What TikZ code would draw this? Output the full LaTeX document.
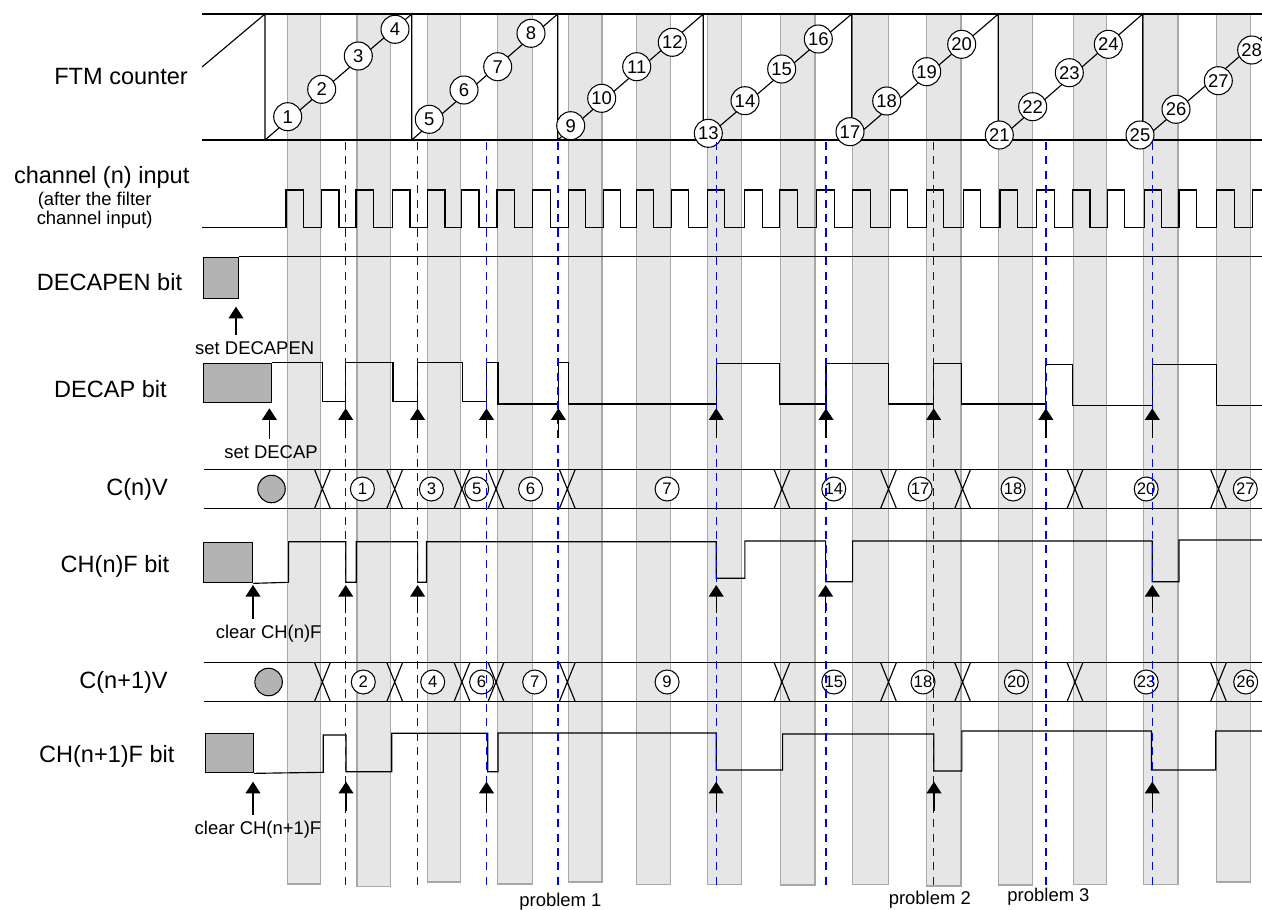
\documentclass[tikz,border=0pt]{standalone}
\usepackage{fontspec}
\setmainfont{Liberation Sans}
\usetikzlibrary{arrows.meta, calc}
\definecolor{barfill}{RGB}{230,230,230}
\definecolor{baredge}{RGB}{168,168,168}
\definecolor{holdgray}{RGB}{179,179,179}
\definecolor{cueblue}{RGB}{0,0,255}

\begin{document}
\begin{tikzpicture}[x=0.02cm, y=-0.02cm,
    bar/.style={fill=barfill, draw=baredge, line width=0.7pt},
    rail/.style={line width=0.7pt},
    sig/.style={line width=0.65pt},
    cue/.style={cueblue, line width=0.7pt, dash pattern=on 4.6pt off 3.6pt},
    pointer/.style={line width=0.7pt, -{Triangle[length=6.6pt, width=8.4pt]}},
    hold/.style={draw, fill=holdgray, line width=0.6pt, inner sep=0pt, anchor=north west},
    cnt/.style={circle, draw, fill=white, line width=0.6pt, inner sep=0pt, minimum size=0.56cm, font=\fontsize{10.5}{11}\selectfont},
    val/.style={circle, draw, fill=white, line width=0.6pt, inner sep=0pt, minimum size=0.48cm, font=\fontsize{9.5}{10}\selectfont},
    blank/.style={circle, draw, fill=holdgray, line width=0.6pt, inner sep=0pt, minimum size=0.55cm},
    lbl/.style={font=\fontsize{13.4}{16}\selectfont},
    note/.style={font=\fontsize{10.5}{12}\selectfont}]
\useasboundingbox (0,0) rectangle (1262,910);

\foreach \a/\b/\c in {287.8/320.4/884, 357/390.6/886.7, 427.8/460.4/882, 497.6/532.7/884, 568.6/602/882,
    636.4/670.4/884.3, 707.2/741.6/884.3, 780.5/815/885, 852.6/888.2/884.3, 926.3/961.1/886,
    998.4/1032.8/885, 1073.7/1106.5/884.3, 1143.7/1178.1/884.3, 1216.2/1250.6/882}
  \draw[bar] (\a,14) rectangle (\b,\c);

\node[lbl, anchor=east] (lblftm) at (194,77) {FTM counter};
\node[lbl] (lblchan) at (101.7,177.7) {channel (n) input};
\node[note, align=center, font=\fontsize{10.5}{9.6}\selectfont] (lblfilter) at (94.7,210) {(after the filter\\channel input)};
\node[lbl] (lbldecapen) at (109.5,281.7) {DECAPEN bit};
\node[lbl] (lbldecap) at (110.5,389.3) {DECAP bit};
\node[lbl] (lblcnv) at (137,489) {C(n)V};
\node[lbl] (lblchnf) at (115,566) {CH(n)F bit};
\node[lbl] (lblcnnv) at (123.5,682) {C(n+1)V};
\node[lbl] (lblchnnf) at (106.8,756.7) {CH(n+1)F bit};

\draw[rail] (202,14) -- (1262,14);
\draw[rail] (202,140) -- (1262,140);
\draw[sig] (202,67) -- (265,14) -- (265,140) -- (411.7,14) -- (411.7,140) -- (557.7,14) -- (557.7,140)
  -- (703.3,14) -- (703.3,140) -- (851.7,14) -- (851.7,140) -- (998.3,14) -- (998.3,140)
  -- (1142.7,14) -- (1142.7,140) -- (1262,37);
\foreach \n/\x/\y in {1/287.7/116.7, 2/321.7/89.3, 3/358.3/56, 4/395/29.3, 5/429.3/119.3, 6/464/90, 7/497.7/66.7,
    8/531/33.3, 9/570.7/125.7, 10/601.7/98.3, 11/636.7/66.7, 12/672.3/42.3, 13/708.3/133.3, 14/745/100.7,
    15/781.7/69, 16/818.3/39, 17/850/131.7, 18/886.7/101, 19/926.7/71.7, 20/961.7/44.3, 21/999.3/135,
    22/1032.7/106.7, 23/1069.3/72.7, 24/1108.3/44.3, 25/1140/135, 26/1176/109.3, 27/1218.3/80.7, 28/1251.7/50}
  \node[cnt] (cnt\n) at (\x,\y) {\n};

\draw[sig] (202,227.7) foreach \r in {286,321.5,356,392.5,427.5,461.5,497,532.7,568.2,603.3,636.4,671.2,707.2,
    744.9,779.7,816.6,852.6,890.3,926.3,963.2,1000,1036.9,1072.5,1107.3,1144.2,1179,1216.6}
  { -- (\r,227.7) -- (\r,190) -- (\r+17.5,190) -- (\r+17.5,227.7) } -- (1252.7,227.7) -- (1252.7,190) -- (1262,190);

\node[hold, minimum width=0.686cm, minimum height=0.832cm] (decapenbox) at (203.3,256.7) {};
\draw[sig] (decapenbox.north east) -- (1262,256.7);
\node[note] (setdecapen) at (254.7,347.7) {set DECAPEN};
\coordinate (decapentip) at (236,306.7);
\draw[pointer] (setdecapen.north -| decapentip) -- (decapentip);

\node[hold, minimum width=1.352cm, minimum height=0.78cm] (decapbox) at (203,362.7) {};
\draw[sig] (decapbox.north east) -- (322.4,362.7) -- (322.4,401.7) -- (345.7,401.7) -- (345.7,362.7) -- (393,362.7)
  -- (393,401.7) -- (417.6,401.7) -- (417.6,362.7) -- (462.4,362.7) -- (462.4,401.7) -- (486.5,401.7)
  -- (486.5,362.7) -- (498,362.7) -- (498,404) -- (558.4,404) -- (558.4,362.7) -- (568.6,362.7) -- (568.6,404)
  -- (716.2,404) -- (716.2,363.3) -- (779.7,363.3) -- (779.7,404) -- (826,404) -- (826,363.3) -- (888.2,363.3)
  -- (888.2,404) -- (933.7,404) -- (933.7,363.3) -- (961.1,363.3) -- (961.1,404) -- (1045.9,404) -- (1045.9,364.3)
  -- (1072.5,364.3) -- (1072.5,405.3) -- (1152.3,405.3) -- (1152.3,364.3) -- (1216.2,364.3) -- (1216.2,405.3) -- (1262,405.3);
\node[note] (setdecap) at (271,451.7) {set DECAP};
\coordinate (decaptip) at (269.4,408.3);
\draw[pointer] (setdecap.north -| decaptip) -- (decaptip);

\draw[rail] (204,469.3) -- (1262,469.3);
\draw[rail] (204,508.7) -- (1262,508.7);
\draw[rail] (204,662.3) -- (1262,662.3);
\draw[rail] (204,701.7) -- (1262,701.7);
\foreach \x in {322.4,394.7,462,496,567.3,782,888.5,962.6,1075,1218.5} {
  \draw[sig] (\x-8,469.3) -- (\x+8,508.7) (\x-8,508.7) -- (\x+8,469.3);
  \draw[sig] (\x-8,662.3) -- (\x+8,701.7) (\x-8,701.7) -- (\x+8,662.3);
}
\node[blank] (cvhold) at (271.5,489) {};
\foreach \n/\x in {1/362.4, 3/431.4, 5/476.7, 6/530.6, 7/667.1, 14/833.8, 17/920.2, 18/1013.1, 20/1146.2, 27/1245.3}
  \node[val] (cv\n) at (\x,489) {\n};
\node[blank] (cwhold) at (268.6,682) {};
\foreach \n/\x in {2/363.3, 4/432.7, 6/481.6, 7/534.7, 9/667.1, 15/833.8, 18/923, 20/1016.4, 23/1146.2, 26/1245.7}
  \node[val] (cw\n) at (\x,682) {\n};

\node[hold, minimum width=0.978cm, minimum height=0.812cm] (chnfbox) at (203.3,541.7) {};
\draw[sig] (chnfbox.south east) -- (288.6,582.3) -- (288.6,541.7) -- (345.7,541.7) -- (345.7,582.3) -- (356.3,582.3)
  -- (356.3,541.7) -- (417.6,541.7) -- (417.6,582.3) -- (426.5,582.3) -- (426.5,541.7) -- (716.2,541.7)
  -- (716.2,578.3) -- (744.9,578.3) -- (744.9,541) -- (825.6,541) -- (825.6,581.7) -- (852.6,581.7)
  -- (852.6,541) -- (1152.3,541) -- (1152.3,581.7) -- (1179,581.7) -- (1179,540) -- (1262,540);
\node[note] (clrchnf) at (268.7,633.3) {clear CH(n)F};
\coordinate (chnftip) at (253,585);
\draw[pointer] (clrchnf.north -| chnftip) -- (chnftip);

\node[hold, minimum width=0.96cm, minimum height=0.78cm] (chnnfbox) at (205,733.3) {};
\draw[sig] (chnnfbox.south east) -- (323.3,772.3) -- (323.3,735) -- (346,735) -- (346,771.7) -- (391.8,771.7)
  -- (391.8,733.3) -- (487.8,733.3) -- (487.8,771.7) -- (498,771.7) -- (498,733) -- (716.2,733) -- (716.2,770)
  -- (782.6,770) -- (782.6,734) -- (933.7,734) -- (933.7,771) -- (961.9,771) -- (961.9,731) -- (1151.5,731)
  -- (1151.5,770) -- (1215.8,770) -- (1215.8,731) -- (1262,731);
\node[note] (clrchnnf) at (258,829.3) {clear CH(n+1)F};
\coordinate (chnnftip) at (253,781.7);
\draw[pointer] (clrchnnf.north -| chnnftip) -- (chnnftip);

\foreach \x in {345.7,417.6,486.5,558,716.2,826,933.7,1045.9,1152.3}
  \draw[cue] (\x,142) -- (\x,885);

\foreach \x in {345.7,417.6,486.5,558.4,716.2,826,933.7,1045.9,1152.3}
  \draw[pointer] (\x,438) -- (\x,408.3);
\foreach \x in {345.7,417.6,716.2,825.6,1152.3}
  \draw[pointer] (\x,613) -- (\x,585);
\foreach \x in {346,486.5,716.2,934,1152.3}
  \draw[pointer] (\x,810.7) -- (\x,781.7);

\node[note] (probone) at (560.4,901.7) {problem 1};
\node[note] (probtwo) at (929.8,900) {problem 2};
\node[note] (probthree) at (1048.5,896.7) {problem 3};
\end{tikzpicture}
\end{document}
